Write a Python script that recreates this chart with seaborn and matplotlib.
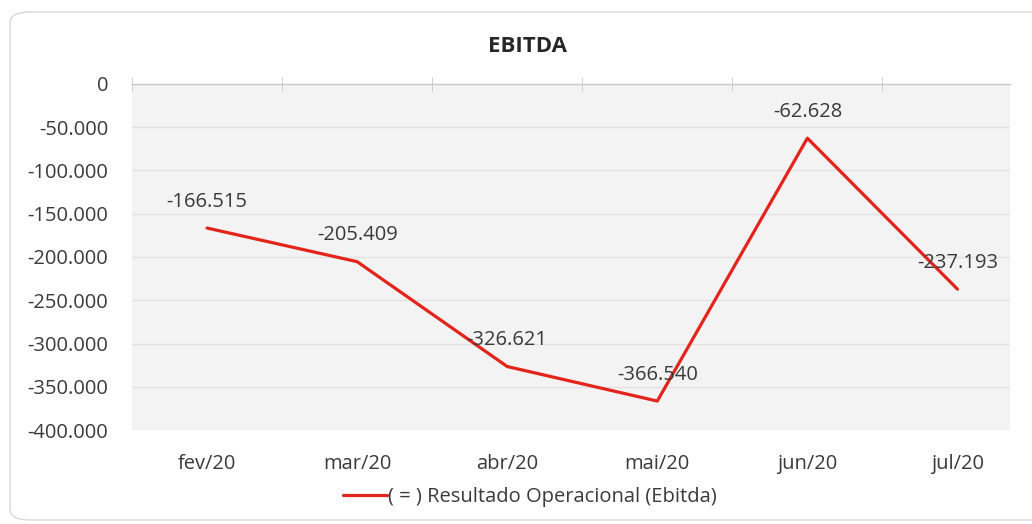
import numpy as np
import pandas as pd
import seaborn as sns
import matplotlib.pyplot as plt
from matplotlib.patches import FancyBboxPatch
from matplotlib.ticker import FuncFormatter

months = ["fev/20", "mar/20", "abr/20", "mai/20", "jun/20", "jul/20"]
ebitda = [-166515, -205409, -326621, -366540, -62628, -237193]
series_name = "( = ) Resultado Operacional (Ebitda)"

df = pd.DataFrame({"mes": months, "valor": ebitda, "serie": series_name})

sns.set_style("white")
plt.rcParams['font.family'] = ['Open Sans', 'DejaVu Sans']

fig = plt.figure(figsize=(10.32, 5.24), dpi=100)
ax = fig.add_axes([132 / 1032, 94 / 524, (1010 - 132) / 1032, 346 / 524])

# outer rounded frame
frame = FancyBboxPatch((10 / 1032, 4 / 524), 1.05, 508 / 524,
                       boxstyle="round,pad=0,rounding_size=0.02",
                       transform=fig.transFigure, facecolor="none",
                       edgecolor="#d9d9d9", linewidth=1.0, zorder=0)
fig.patches.append(frame)

ax.set_facecolor("#f3f3f3")
sns.lineplot(data=df, x="mes", y="valor", hue="serie", palette=["#e3241b"],
             linewidth=2.3, ax=ax, legend=True)

ax.set_xticks(range(len(months)))
ax.set_xticklabels(months)
ax.set_xticks(np.arange(-0.5, 5.6, 1), minor=True)
ax.set_yticks(np.arange(-400000, 1, 50000))
ax.set_xlim(-0.5, 5.35)
ax.set_ylim(-400000, 0)
ax.yaxis.set_major_formatter(FuncFormatter(lambda v, p: f"{int(v):,}".replace(",", ".")))
ax.grid(axis="y", color="#e2e2e2", linewidth=1.0)
ax.grid(axis="x", visible=False)
for s in ["left", "right", "bottom"]:
    ax.spines[s].set_visible(False)
ax.spines["top"].set_color("#c8c8c8")
ax.spines["top"].set_linewidth(1.0)

ax.tick_params(axis="x", which="major", length=0, pad=17, labelsize=14.5, colors="#3a3a3a")
ax.tick_params(axis="x", which="minor", bottom=False, top=True, direction="inout",
               length=10, color="#c8c8c8")
ax.tick_params(axis="y", length=0, pad=17, labelsize=14.5, colors="#3a3a3a")

ax.set_xlabel("")
ax.set_ylabel("")

for i, v in enumerate(ebitda):
    ax.annotate(f"{v:,}".replace(",", "."), (i, v), xytext=(0, 19),
                textcoords="offset points", ha="center", va="center",
                fontsize=14.5, color="#3a3a3a")

fig.text(528 / 1032, 1 - 46 / 524, "EBITDA", ha="center", va="center",
         fontsize=16, fontweight="bold", color="#262626")

ax.legend(loc="center", bbox_to_anchor=(530 / 1032, 1 - 497 / 524),
          bbox_transform=fig.transFigure, frameon=False, fontsize=14.5,
          handlelength=2.2, handletextpad=0.05, labelcolor="#3a3a3a")

fig.savefig("out.png", dpi=100)
